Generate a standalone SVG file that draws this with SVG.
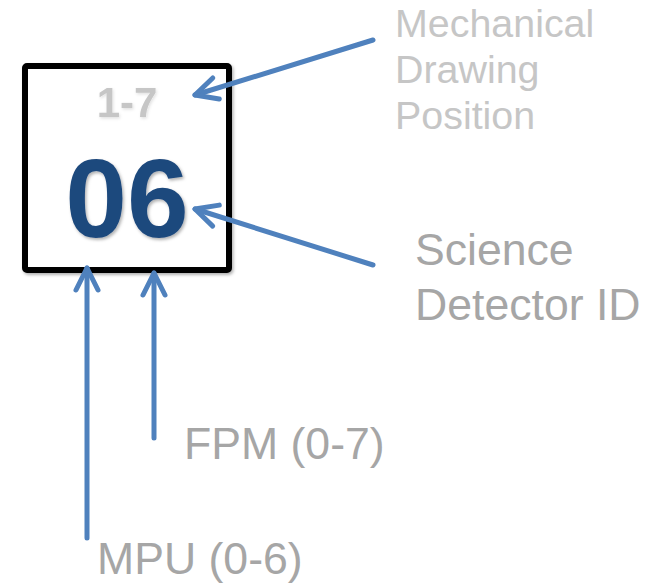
<svg xmlns="http://www.w3.org/2000/svg" width="657" height="584" viewBox="0 0 657 584">
<style>
.lbl{font-family:"Liberation Sans",Arial,sans-serif;fill:#a6a6a6;font-size:44.6px}
.lite{font-family:"Liberation Sans",Arial,sans-serif;fill:#c6c6c6;font-size:39.4px}
.conn{stroke:#4F81BD;stroke-width:5;fill:none;stroke-linecap:round;marker-end:url(#head)}
</style>
<defs>
<marker id="head" markerUnits="userSpaceOnUse" markerWidth="40" markerHeight="40" viewBox="-30 -20 40 40" refX="0" refY="0" orient="auto">
<path d="M-22,-11 L0,0 L-22,11" fill="none" stroke="#4F81BD" stroke-width="5" stroke-linecap="round" stroke-linejoin="round"/>
</marker>
<filter id="sh" x="-20%" y="-20%" width="140%" height="140%">
<feDropShadow dx="1.5" dy="2" stdDeviation="1.5" flood-color="#000" flood-opacity="0.3"/>
</filter>
<filter id="sh2" x="-20%" y="-20%" width="140%" height="140%">
<feDropShadow dx="1" dy="1.5" stdDeviation="1.5" flood-color="#000" flood-opacity="0.12"/>
</filter>
</defs>
<g id="node-box">
<rect x="25" y="66" width="204" height="204" rx="2" fill="#fff" stroke="#000" stroke-width="6" filter="url(#sh)"/>
<text x="127" y="117" text-anchor="middle" font-family="Liberation Sans,Arial,sans-serif" font-weight="bold" font-size="42" fill="#c6c6c6" filter="url(#sh2)">1-7</text>
<text x="127" y="237" text-anchor="middle" font-family="Liberation Sans,Arial,sans-serif" font-weight="bold" font-size="111" fill="#1F497D" filter="url(#sh)">06</text>
</g>
<g id="connectors">
<line class="conn" x1="373" y1="40" x2="195" y2="95"/>
<line class="conn" x1="373" y1="265" x2="195" y2="209"/>
<line class="conn" x1="87" y1="538" x2="87" y2="268"/>
<line class="conn" x1="154" y1="438" x2="154" y2="273"/>
</g>
<g id="label-mech">
<text class="lite" x="395" y="37">Mechanical</text>
<text class="lite" x="395" y="83">Drawing</text>
<text class="lite" x="395" y="129">Position</text>
</g>
<g id="label-sci">
<text class="lbl" x="415" y="265">Science</text>
<text class="lbl" x="415" y="320">Detector ID</text>
</g>
<g id="label-fpm">
<text class="lbl" x="184" y="459">FPM (0-7)</text>
</g>
<g id="label-mpu">
<text class="lbl" x="97" y="574">MPU (0-6)</text>
</g>
</svg>
